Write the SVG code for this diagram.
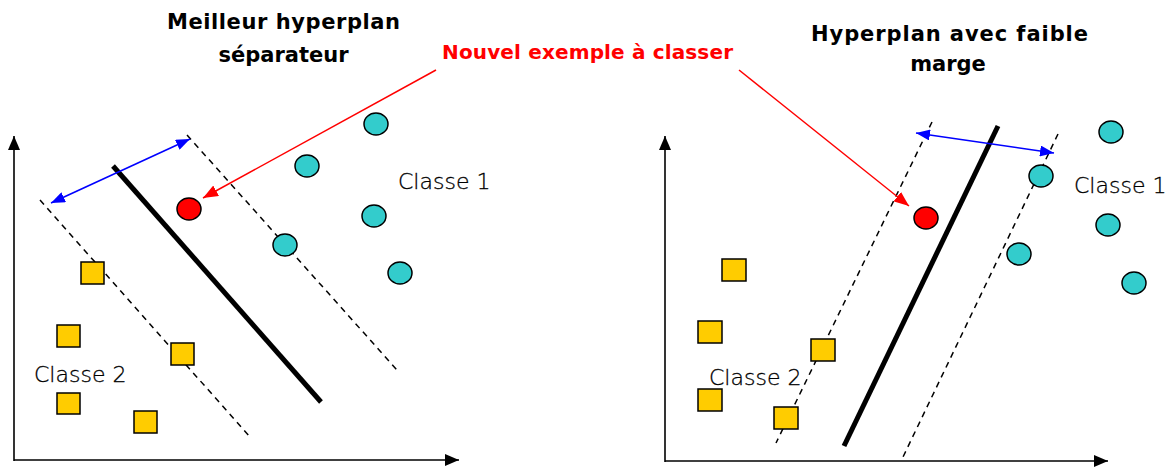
<svg xmlns="http://www.w3.org/2000/svg" width="1169" height="468" viewBox="0 0 1169 468">
  <defs>
    <style>
      .axis { stroke: #000; stroke-width: 1.6; fill: none; }
      .margin { stroke: #000; stroke-width: 1.5; stroke-dasharray: 6 5; fill: none; }
      .hyper { stroke: #000; stroke-width: 5; fill: none; }
      .width { stroke: #0000FF; stroke-width: 1.6; fill: none; }
      .pointer { stroke: #FF0000; stroke-width: 1.5; fill: none; }
      .c1 { fill: #33CCCC; stroke: #000; stroke-width: 1.5; }
      .c2 { fill: #FFCC00; stroke: #000; stroke-width: 1.5; }
      .newpt { fill: #FF0000; stroke: #000; stroke-width: 1.5; }
      .title { font-family: "DejaVu Sans", "Liberation Sans", sans-serif; font-weight: bold; font-size: 21px; fill: #000; text-anchor: middle; }
      .note { font-family: "DejaVu Sans", "Liberation Sans", sans-serif; font-weight: bold; font-size: 20px; fill: #FF0000; }
      .label { font-family: "DejaVu Sans", "Liberation Sans", sans-serif; font-weight: 300; font-size: 22px; fill: #000; stroke: #000; stroke-width: 0.3; }
    </style>
    <marker id="axisHead" viewBox="0 0 14 12" refX="14" refY="6" markerWidth="14" markerHeight="12" markerUnits="userSpaceOnUse" orient="auto">
      <path d="M0,0 L14,6 L0,12 Z" fill="#000"/>
    </marker>
    <marker id="blueHead" viewBox="0 0 14 11" refX="14" refY="5.5" markerWidth="14" markerHeight="11" markerUnits="userSpaceOnUse" orient="auto-start-reverse">
      <path d="M0,0 L14,5.5 L0,11 Z" fill="#0000FF"/>
    </marker>
    <marker id="redHead" viewBox="0 0 15 12" refX="15" refY="6" markerWidth="15" markerHeight="12" markerUnits="userSpaceOnUse" orient="auto">
      <path d="M0,0 L15,6 L0,12 Z" fill="#FF0000"/>
    </marker>
  </defs>

  <rect width="1169" height="468" fill="#fff"/>

  <!-- titles -->
  <g id="title-best">
    <text class="title" x="283.5" y="29" textLength="233">Meilleur hyperplan</text>
    <text class="title" x="283.5" y="62">séparateur</text>
  </g>
  <g id="title-weak">
    <text class="title" x="949.5" y="41" textLength="277">Hyperplan avec faible</text>
    <text class="title" x="948" y="71">marge</text>
  </g>
  <g id="note-new">
    <text class="note" x="442" y="59" textLength="291">Nouvel exemple à classer</text>
  </g>

  <!-- left panel -->
  <g id="left-axes">
    <line class="axis" x1="14" y1="461" x2="14" y2="136" marker-end="url(#axisHead)"/>
    <line class="axis" x1="14" y1="460" x2="459" y2="460" marker-end="url(#axisHead)"/>
  </g>
  <g id="left-hyperplane">
    <line class="margin" x1="40" y1="200" x2="250" y2="437"/>
    <line class="margin" x1="187" y1="135" x2="397" y2="370"/>
    <line class="hyper" x1="113" y1="166" x2="321" y2="402"/>
  </g>
  <g id="left-class1">
    <ellipse class="c1" cx="376" cy="124" rx="12" ry="11"/>
    <ellipse class="c1" cx="307" cy="166" rx="12" ry="11"/>
    <ellipse class="c1" cx="374" cy="216" rx="12" ry="11"/>
    <ellipse class="c1" cx="285" cy="245" rx="12" ry="11"/>
    <ellipse class="c1" cx="400" cy="273" rx="12" ry="11"/>
    <text class="label" x="398" y="189">Classe 1</text>
  </g>
  <g id="left-class2">
    <rect class="c2" x="81" y="262" width="23" height="22"/>
    <rect class="c2" x="57" y="325" width="23" height="22"/>
    <rect class="c2" x="171" y="343" width="23" height="22"/>
    <rect class="c2" x="57" y="393" width="23" height="21"/>
    <rect class="c2" x="134" y="411" width="23" height="22"/>
    <text class="label" x="34" y="382">Classe 2</text>
  </g>
  <g id="left-new-point">
    <ellipse class="newpt" cx="189" cy="209" rx="12" ry="11"/>
  </g>

  <!-- right panel -->
  <g id="right-axes">
    <line class="axis" x1="665" y1="462" x2="665" y2="136" marker-end="url(#axisHead)"/>
    <line class="axis" x1="665" y1="461" x2="1108" y2="461" marker-end="url(#axisHead)"/>
  </g>
  <g id="right-hyperplane">
    <line class="margin" x1="932" y1="122" x2="776" y2="443"/>
    <line class="margin" x1="1058" y1="134" x2="903" y2="457"/>
    <line class="hyper" x1="998" y1="126" x2="844" y2="446"/>
  </g>
  <g id="right-class1">
    <ellipse class="c1" cx="1111" cy="132" rx="12" ry="11"/>
    <ellipse class="c1" cx="1041" cy="176" rx="12" ry="11"/>
    <ellipse class="c1" cx="1108" cy="225" rx="12" ry="11"/>
    <ellipse class="c1" cx="1019" cy="254" rx="12" ry="11"/>
    <ellipse class="c1" cx="1134" cy="283" rx="12" ry="11"/>
    <text class="label" x="1074" y="193">Classe 1</text>
  </g>
  <g id="right-class2">
    <rect class="c2" x="722" y="259" width="24" height="22"/>
    <rect class="c2" x="698" y="321" width="24" height="22"/>
    <rect class="c2" x="811" y="339" width="24" height="22"/>
    <rect class="c2" x="698" y="389" width="24" height="22"/>
    <rect class="c2" x="774" y="407" width="24" height="22"/>
    <text class="label" x="709" y="385">Classe 2</text>
  </g>
  <g id="right-new-point">
    <ellipse class="newpt" cx="926" cy="218" rx="12" ry="11"/>
  </g>

  <!-- connectors: margin widths and pointers to the new sample -->
  <g id="connectors">
    <line class="width" x1="51" y1="203" x2="190" y2="139" marker-start="url(#blueHead)" marker-end="url(#blueHead)"/>
    <line class="width" x1="916" y1="133" x2="1054" y2="153" marker-start="url(#blueHead)" marker-end="url(#blueHead)"/>
    <line class="pointer" x1="436" y1="70" x2="203" y2="198" marker-end="url(#redHead)"/>
    <line class="pointer" x1="739" y1="70" x2="909" y2="206" marker-end="url(#redHead)"/>
  </g>
</svg>
